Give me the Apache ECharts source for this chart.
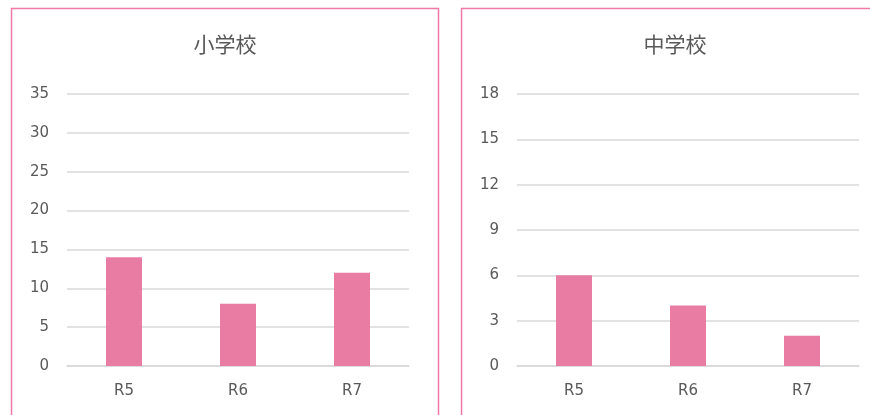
<!DOCTYPE html>
<html>
<head>
<meta charset="utf-8">
<script src="https://cdn.jsdelivr.net/npm/echarts@6/dist/echarts.min.js"></script>
<style>
  html, body { margin: 0; padding: 0; background: #fff; overflow: hidden; }
  #chart { width: 870px; height: 415px; }
</style>
</head>
<body>
<div id="chart"></div>
<script>
// 年度別の件数（小学校・中学校）
const categories = ['R5', 'R6', 'R7'];
const elementaryValues = [14, 8, 12];
const juniorHighValues = [6, 4, 2];
const elementaryTicks = { min: 0, max: 35, interval: 5 };
const juniorHighTicks = { min: 0, max: 18, interval: 3 };
const panelTitles = ['小学校', '中学校'];

const textColor = '#595959';
const gridColor = '#d9d9d9';
const barColor = '#e87ca2';
const frameColor = '#ef7aa6';
const labelFont = 'DejaVu Sans, Verdana, sans-serif';
const cjkFont = '"Noto Sans CJK JP", "Noto Sans", sans-serif';

const chart = echarts.init(document.getElementById('chart'), null, { renderer: 'canvas' });

function yAxisFor(idx, ticks) {
  return {
    type: 'value', gridIndex: idx,
    min: ticks.min, max: ticks.max, interval: ticks.interval,
    axisLine: { show: false }, axisTick: { show: false },
    axisLabel: { color: textColor, fontFamily: labelFont, fontSize: 15, margin: 18 },
    splitLine: { lineStyle: { color: gridColor, width: 1.5 } }
  };
}
function xAxisFor(idx) {
  return {
    type: 'category', gridIndex: idx, data: categories,
    axisLine: { show: true, lineStyle: { color: gridColor, width: 1.5 } },
    axisTick: { show: false },
    axisLabel: { color: textColor, fontFamily: labelFont, fontSize: 15, margin: 18 }
  };
}
function panelTitle(text, cx) {
  return {
    type: 'text', x: cx, y: 44, silent: true,
    style: { text: text, fill: textColor, font: '21px ' + cjkFont,
             textAlign: 'center', textVerticalAlign: 'middle' }
  };
}

chart.setOption({
  animation: false,
  backgroundColor: '#ffffff',
  graphic: [
    { type: 'rect', shape: { x: 11.5, y: 8.5, width: 427, height: 430 },
      style: { fill: 'none', stroke: frameColor, lineWidth: 1.5 }, silent: true },
    { type: 'rect', shape: { x: 461.5, y: 8.5, width: 427, height: 430 },
      style: { fill: 'none', stroke: frameColor, lineWidth: 1.5 }, silent: true },
    panelTitle(panelTitles[0], 225),
    panelTitle(panelTitles[1], 675)
  ],
  grid: [
    { left: 67, right: 461, top: 94, bottom: 49 },
    { left: 517, right: 11, top: 94, bottom: 49 }
  ],
  xAxis: [xAxisFor(0), xAxisFor(1)],
  yAxis: [yAxisFor(0, elementaryTicks), yAxisFor(1, juniorHighTicks)],
  series: [
    { type: 'bar', xAxisIndex: 0, yAxisIndex: 0, data: elementaryValues,
      barWidth: 36, itemStyle: { color: barColor } },
    { type: 'bar', xAxisIndex: 1, yAxisIndex: 1, data: juniorHighValues,
      barWidth: 36, itemStyle: { color: barColor } }
  ]
});
</script>
</body>
</html>
